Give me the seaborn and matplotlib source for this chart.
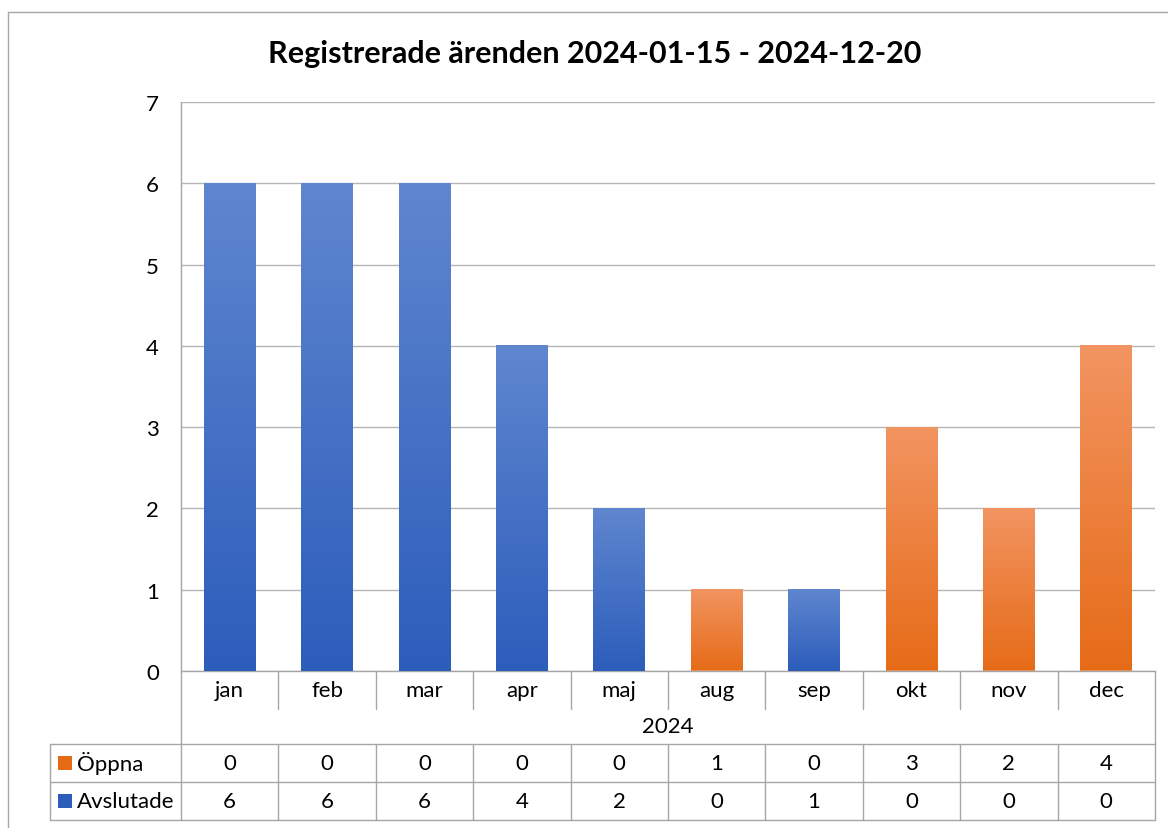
import matplotlib
matplotlib.use("Agg")
import matplotlib.pyplot as plt
from matplotlib.colors import LinearSegmentedColormap
from matplotlib.patches import Rectangle
from matplotlib.lines import Line2D
import seaborn as sns
import pandas as pd
import numpy as np


# --------------------------------------------------------------------------------------------------
# data

MONTHS = ["jan", "feb", "mar", "apr", "maj", "aug", "sep", "okt", "nov", "dec"]
YEAR = "2024"
OPPNA = [0, 0, 0, 0, 0, 1, 0, 3, 2, 4]
AVSLUTADE = [6, 6, 6, 4, 2, 0, 1, 0, 0, 0]
SERIES = ["Öppna", "Avslutade"]
TITLE = "Registrerade ärenden 2024-01-15 - 2024-12-20"

BLUE = ("#5f86cf", "#2c5dbb")
ORANGE = ("#f29461", "#e66b17")
LINE = "#a6a6a6"
FS = 16

sns.set_theme(style="white")
plt.rcParams["font.family"] = ["Lato", "DejaVu Sans"]
plt.rcParams["text.color"] = "black"
plt.rcParams["ytick.color"] = "black"

df = pd.DataFrame({"month": MONTHS, "oppna": OPPNA, "avslutade": AVSLUTADE})
df["total"] = df["oppna"] + df["avslutade"]

W, H = 1168, 829
fig = plt.figure(figsize=(W / 100, H / 100), dpi=100)
fig.patch.set_facecolor("white")

# plot area in pixel coords
L, R, T, B = 181, 1155, 103, 672
ax = fig.add_axes([L / W, 1 - B / H, (R - L) / W, (B - T) / H])

# stacked: total in orange, avslutade drawn over it in blue
sns.barplot(data=df, x="month", y="total", color=ORANGE[1], width=0.53, ax=ax, zorder=2)
n_top = len(ax.patches)
sns.barplot(data=df, x="month", y="avslutade", color=BLUE[1], width=0.53, ax=ax, zorder=3)


# --------------------------------------------------------------------------------------------------
# gradient fill (light top -> dark bottom)

grad = np.linspace(0, 1, 256).reshape(-1, 1)
for i, p in enumerate(ax.patches):
    h = p.get_height()
    if h <= 0:
        continue
    cols = ORANGE if i < n_top else BLUE
    cmap = LinearSegmentedColormap.from_list("g", [cols[1], cols[0]])
    x0 = p.get_x()
    ax.imshow(grad, extent=[x0, x0 + p.get_width(), p.get_y(), p.get_y() + h],
              origin="lower", aspect="auto", cmap=cmap, zorder=p.get_zorder() + 0.5)
    p.set_facecolor("none")
    p.set_edgecolor("none")

ax.set_xlim(-0.5, len(MONTHS) - 0.5)
ax.set_ylim(0, 7)
ax.set_yticks(range(0, 8))
ax.yaxis.grid(True, color="#b5b5b5", linewidth=1)
ax.set_axisbelow(True)
ax.tick_params(axis="y", labelsize=FS, pad=16, length=0, labelcolor="black")
ax.set_xticks([])
ax.set_xlabel("")
ax.set_ylabel("")
for s in ["top", "right"]:
    ax.spines[s].set_visible(False)
for s in ["left", "bottom"]:
    ax.spines[s].set_color(LINE)
    ax.spines[s].set_linewidth(1)


# --------------------------------------------------------------------------------------------------
# data table below the plot (pixel coords -> figure coords)

def fx(px):
    return px / W


def fy(py):
    return 1 - py / H


def hline(x0, x1, y):
    fig.add_artist(Line2D([fx(x0), fx(x1)], [fy(y), fy(y)], color=LINE, lw=1))


def vline(x, y0, y1):
    fig.add_artist(Line2D([fx(x), fx(x)], [fy(y0), fy(y1)], color=LINE, lw=1))


cw = (R - L) / len(MONTHS)
ROW_CAT, ROW_YEAR, ROW1, ROW2 = 710, 745, 783, 821
LEG_L = 50

for k in range(1, len(MONTHS)):
    x = L + k * cw
    vline(x, B, ROW_CAT)
    vline(x, ROW_YEAR, ROW2)
vline(L, B, ROW2)
vline(R, B, ROW2)
vline(LEG_L, ROW_YEAR, ROW2)
hline(LEG_L, R, ROW_YEAR)
hline(LEG_L, R, ROW1)
hline(LEG_L, R, ROW2)

for k, m in enumerate(MONTHS):
    xc = fx(L + (k + 0.5) * cw)
    fig.text(xc, fy((B + ROW_CAT) / 2), m, ha="center", va="center", fontsize=FS)
    fig.text(xc, fy((ROW_YEAR + ROW1) / 2), str(OPPNA[k]), ha="center", va="center", fontsize=FS)
    fig.text(xc, fy((ROW1 + ROW2) / 2), str(AVSLUTADE[k]), ha="center", va="center", fontsize=FS)

fig.text(fx((L + R) / 2), fy((ROW_CAT + ROW_YEAR) / 2), YEAR, ha="center", va="center", fontsize=FS)

for name, cols, (y0, y1) in [(SERIES[0], ORANGE, (ROW_YEAR, ROW1)), (SERIES[1], BLUE, (ROW1, ROW2))]:
    yc = (y0 + y1) / 2
    fig.add_artist(Rectangle((fx(58), fy(yc + 7)), 14 / W, 14 / H, facecolor=cols[1],
                             edgecolor="none", transform=fig.transFigure))
    fig.text(fx(77), fy(yc), name, ha="left", va="center", fontsize=FS)

# outer chart border
vline(8, 13, H)
hline(8, W, 13)

fig.text(fx(595), fy(54), TITLE, ha="center", va="center", fontsize=22, fontweight="bold")

plt.savefig("out.png", dpi=100)
plt.close()
print("Saved out.png")
